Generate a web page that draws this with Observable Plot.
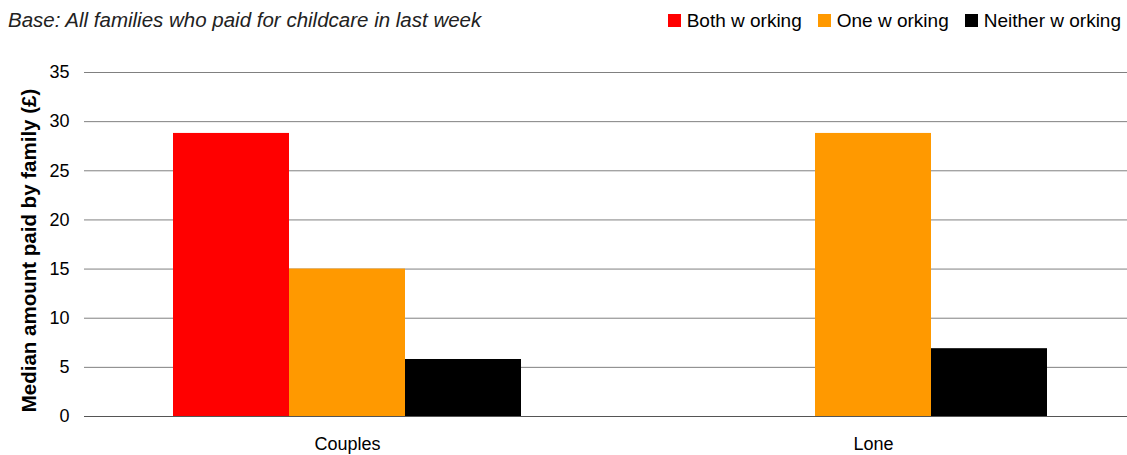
<!DOCTYPE html>
<html>
<head>
<meta charset="utf-8">
<script src="https://cdn.jsdelivr.net/npm/d3@7"></script>
<script src="https://cdn.jsdelivr.net/npm/@observablehq/plot@0.6"></script>
<style>
  html, body { margin: 0; padding: 0; background: #fff; }
  body { width: 1127px; height: 455px; overflow: hidden; font-family: "Liberation Sans", Arial, sans-serif; }
  #header { position: relative; height: 40px; }
  #title { position: absolute; left: 8px; top: 10px; font-size: 20.5px; line-height: 20px; font-style: italic; color: #222; white-space: nowrap; }
  #legend { position: absolute; right: 6px; top: 11px; font-size: 19px; line-height: 19px; color: #000; display: flex; white-space: nowrap; }
  .item { display: flex; align-items: center; margin-left: 16px; }
  .sw { width: 13px; height: 13px; margin-right: 6px; }
  g[aria-label="y-axis label"] text { font-weight: bold; font-size: 20.5px; }
  g[aria-label="fx-axis tick label"] text { font-size: 18px; }
</style>
</head>
<body>
<div id="header"><div id="title"></div><div id="legend"></div></div>
<div id="chart"></div>
<script>
const groups = ["Couples", "Lone"];
const series = ["Both w orking", "One w orking", "Neither w orking"];
const colors = ["#FF0000", "#FF9900", "#000000"];
const couplesValues = [28.8, 15.0, 5.8];
const loneValues = [null, 28.8, 6.9];
const yTicks = [0, 5, 10, 15, 20, 25, 30, 35];
const titleText = "Base: All families who paid for childcare in last week";
const yLabel = "Median amount paid by family (£)";

const rows = [];
series.forEach((s, i) => {
  if (couplesValues[i] != null) rows.push({group: groups[0], series: s, value: couplesValues[i]});
  if (loneValues[i] != null) rows.push({group: groups[1], series: s, value: loneValues[i]});
});

document.getElementById("title").textContent = titleText;
const legend = document.getElementById("legend");
series.forEach((s, i) => {
  const it = document.createElement("div"); it.className = "item";
  const sw = document.createElement("div"); sw.className = "sw"; sw.style.background = colors[i];
  const tx = document.createElement("span"); tx.textContent = s;
  it.appendChild(sw); it.appendChild(tx); legend.appendChild(it);
});

const chart = Plot.plot({
  width: 1127,
  height: 415,
  marginLeft: 84,
  marginRight: -9,
  marginTop: 32,
  marginBottom: 39,
  style: {fontFamily: "Liberation Sans, Arial, sans-serif", fontSize: "18px", color: "#000", background: "#fff"},
  fx: {domain: groups, paddingInner: 0, paddingOuter: 0, label: null, axis: null},
  x: {domain: series, paddingInner: 0, paddingOuter: 0.75, axis: null},
  y: {domain: [0, 35], label: null},
  color: {domain: series, range: colors},
  marks: [
    Plot.ruleY(yTicks, {stroke: "#808080", strokeWidth: 1}),
    Plot.barY(rows, {fx: "group", x: "series", y: "value", fill: "series", inset: 0}),
    Plot.ruleY([0], {stroke: "#555", strokeWidth: 1}),
    Plot.axisY({ticks: yTicks, tickSize: 0, tickPadding: 15, label: yLabel, labelArrow: "none", labelAnchor: "center", labelOffset: 63}),
    Plot.axisFx({anchor: "bottom", tickSize: 0, tickPadding: 21, label: null})
  ]
});
d3.select(chart).selectAll('g[aria-label="y-axis label"] text').attr("dx", "-6");
document.getElementById("chart").appendChild(chart);
</script>
</body>
</html>
